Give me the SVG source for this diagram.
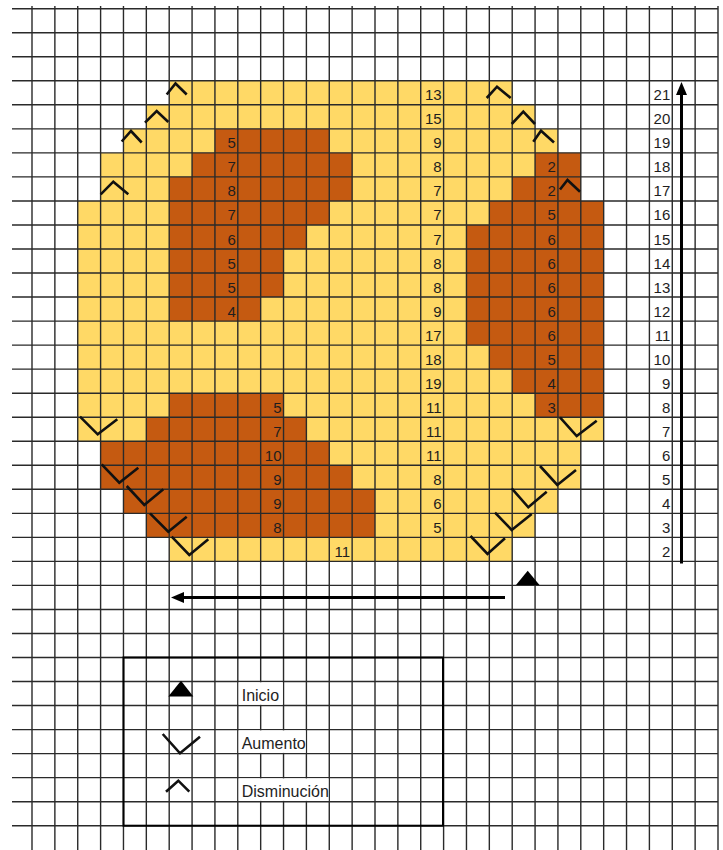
<svg xmlns="http://www.w3.org/2000/svg" width="723" height="850" viewBox="0 0 723 850">
<style>
.y{fill:#FFD966}
.b{fill:#C55A11}
.grid{fill:none;stroke:#2a2a2a;stroke-width:1.4}
.n{font-family:"Liberation Sans",Arial,sans-serif;font-size:15px;fill:#1e1e1e;text-anchor:end}
.lg{font-family:"Liberation Sans",Arial,sans-serif;font-size:16px;fill:#1e1e1e}
.mk{fill:none;stroke:#111;stroke-width:2.6;stroke-linecap:butt;stroke-linejoin:miter}
.tri{fill:#000}
.arr{fill:none;stroke:#000;stroke-width:3}
</style>
<defs>
<marker id="ah" markerUnits="userSpaceOnUse" markerWidth="13" markerHeight="11" refX="4" refY="5.5" orient="auto">
<path d="M0,0L13,5.5L0,11z" fill="#000"/>
</marker>
</defs>
<rect width="723" height="850" fill="#fff"/>
<g id="fills">
<g id="yellow">
<rect class="y" x="169.2" y="80.79" width="343" height="24.03"/>
<rect class="y" x="146.33" y="104.82" width="388.74" height="24.03"/>
<rect class="y" x="123.47" y="128.85" width="434.46" height="24.03"/>
<rect class="y" x="100.6" y="152.88" width="480.2" height="48.06"/>
<rect class="y" x="77.73" y="200.94" width="525.94" height="240.3"/>
<rect class="y" x="100.6" y="441.24" width="480.2" height="48.06"/>
<rect class="y" x="123.47" y="489.3" width="434.46" height="24.03"/>
<rect class="y" x="146.33" y="513.33" width="388.74" height="24.03"/>
<rect class="y" x="169.2" y="537.36" width="343" height="24.03"/>
</g>
<g id="brown">
<rect class="b" x="214.93" y="128.85" width="114.34" height="24.03"/>
<rect class="b" x="192.07" y="152.88" width="160.06" height="24.03"/>
<rect class="b" x="535.07" y="152.88" width="45.73" height="24.03"/>
<rect class="b" x="169.2" y="176.91" width="182.93" height="24.03"/>
<rect class="b" x="512.2" y="176.91" width="68.6" height="24.03"/>
<rect class="b" x="169.2" y="200.94" width="160.07" height="24.03"/>
<rect class="b" x="489.33" y="200.94" width="114.34" height="24.03"/>
<rect class="b" x="169.2" y="224.97" width="137.2" height="24.03"/>
<rect class="b" x="466.47" y="224.97" width="137.2" height="120.15"/>
<rect class="b" x="169.2" y="249" width="114.33" height="48.06"/>
<rect class="b" x="169.2" y="297.06" width="91.47" height="24.03"/>
<rect class="b" x="489.33" y="345.12" width="114.34" height="24.03"/>
<rect class="b" x="512.2" y="369.15" width="91.47" height="24.03"/>
<rect class="b" x="535.07" y="393.18" width="68.6" height="24.03"/>
<rect class="b" x="169.2" y="393.18" width="114.33" height="24.03"/>
<rect class="b" x="146.33" y="417.21" width="160.07" height="24.03"/>
<rect class="b" x="100.6" y="441.24" width="228.67" height="24.03"/>
<rect class="b" x="100.6" y="465.27" width="251.53" height="24.03"/>
<rect class="b" x="123.47" y="489.3" width="251.53" height="24.03"/>
<rect class="b" x="146.33" y="513.33" width="228.67" height="24.03"/>
</g>
</g>
<g id="grid">
<path class="grid" d="M32,6V850M54.87,6V850M77.73,6V850M100.6,6V850M123.47,6V850M146.33,6V850M169.2,6V850M192.07,6V850M214.93,6V850M237.8,6V850M260.67,6V850M283.53,6V850M306.4,6V850M329.27,6V850M352.13,6V850M375,6V850M397.87,6V850M420.73,6V850M443.6,6V850M466.47,6V850M489.33,6V850M512.2,6V850M535.07,6V850M557.93,6V850M580.8,6V850M603.67,6V850M626.53,6V850M649.4,6V850M672.27,6V850M695.13,6V850M718,6V850"/>
<path class="grid" d="M12,8.7H718M12,32.73H718M12,56.76H718M12,80.79H718M12,104.82H718M12,128.85H718M12,152.88H718M12,176.91H718M12,200.94H718M12,224.97H718M12,249H718M12,273.03H718M12,297.06H718M12,321.09H718M12,345.12H718M12,369.15H718M12,393.18H718M12,417.21H718M12,441.24H718M12,465.27H718M12,489.3H718M12,513.33H718M12,537.36H718M12,561.39H718M12,585.42H718M12,609.45H718M12,633.48H718M12,657.51H718M12,681.54H718M12,705.57H718M12,729.6H718M12,753.63H718M12,777.66H718M12,801.69H718M12,825.72H718"/>
</g>
<g id="center-counts">
<text class="n" x="441.6" y="100.32">13</text>
<text class="n" x="441.6" y="124.35">15</text>
<text class="n" x="441.6" y="148.38">9</text>
<text class="n" x="441.6" y="172.41">8</text>
<text class="n" x="441.6" y="196.44">7</text>
<text class="n" x="441.6" y="220.47">7</text>
<text class="n" x="441.6" y="244.5">7</text>
<text class="n" x="441.6" y="268.53">8</text>
<text class="n" x="441.6" y="292.56">8</text>
<text class="n" x="441.6" y="316.59">9</text>
<text class="n" x="441.6" y="340.62">17</text>
<text class="n" x="441.6" y="364.65">18</text>
<text class="n" x="441.6" y="388.68">19</text>
<text class="n" x="441.6" y="412.71">11</text>
<text class="n" x="441.6" y="436.74">11</text>
<text class="n" x="441.6" y="460.77">11</text>
<text class="n" x="441.6" y="484.8">8</text>
<text class="n" x="441.6" y="508.83">6</text>
<text class="n" x="441.6" y="532.86">5</text>
<text class="n" x="350.1" y="556.89">11</text>
</g>
<g id="left-upper-counts">
<text class="n" x="235.8" y="148.38">5</text>
<text class="n" x="235.8" y="172.41">7</text>
<text class="n" x="235.8" y="196.44">8</text>
<text class="n" x="235.8" y="220.47">7</text>
<text class="n" x="235.8" y="244.5">6</text>
<text class="n" x="235.8" y="268.53">5</text>
<text class="n" x="235.8" y="292.56">5</text>
<text class="n" x="235.8" y="316.59">4</text>
</g>
<g id="right-counts">
<text class="n" x="555.9" y="172.41">2</text>
<text class="n" x="555.9" y="196.44">2</text>
<text class="n" x="555.9" y="220.47">5</text>
<text class="n" x="555.9" y="244.5">6</text>
<text class="n" x="555.9" y="268.53">6</text>
<text class="n" x="555.9" y="292.56">6</text>
<text class="n" x="555.9" y="316.59">6</text>
<text class="n" x="555.9" y="340.62">6</text>
<text class="n" x="555.9" y="364.65">5</text>
<text class="n" x="555.9" y="388.68">4</text>
<text class="n" x="555.9" y="412.71">3</text>
</g>
<g id="left-lower-counts">
<text class="n" x="281.5" y="412.71">5</text>
<text class="n" x="281.5" y="436.74">7</text>
<text class="n" x="281.5" y="460.77">10</text>
<text class="n" x="281.5" y="484.8">9</text>
<text class="n" x="281.5" y="508.83">9</text>
<text class="n" x="281.5" y="532.86">8</text>
</g>
<g id="row-numbers">
<text class="n" x="670.3" y="100.32">21</text>
<text class="n" x="670.3" y="124.35">20</text>
<text class="n" x="670.3" y="148.38">19</text>
<text class="n" x="670.3" y="172.41">18</text>
<text class="n" x="670.3" y="196.44">17</text>
<text class="n" x="670.3" y="220.47">16</text>
<text class="n" x="670.3" y="244.5">15</text>
<text class="n" x="670.3" y="268.53">14</text>
<text class="n" x="670.3" y="292.56">13</text>
<text class="n" x="670.3" y="316.59">12</text>
<text class="n" x="670.3" y="340.62">11</text>
<text class="n" x="670.3" y="364.65">10</text>
<text class="n" x="670.3" y="388.68">9</text>
<text class="n" x="670.3" y="412.71">8</text>
<text class="n" x="670.3" y="436.74">7</text>
<text class="n" x="670.3" y="460.77">6</text>
<text class="n" x="670.3" y="484.8">5</text>
<text class="n" x="670.3" y="508.83">4</text>
<text class="n" x="670.3" y="532.86">3</text>
<text class="n" x="670.3" y="556.89">2</text>
</g>
<g id="decreases">
<polyline class="mk" points="166.7,94.5 175.5,83.5 186.7,94.5"/>
<polyline class="mk" points="145,122.7 156.7,111 168.3,122"/>
<polyline class="mk" points="121.7,141.5 131,131 141.7,142.5"/>
<polyline class="mk" points="100.7,194.3 113.3,181.7 128.3,194.3"/>
<polyline class="mk" points="486.7,98 497,86.7 510.7,98"/>
<polyline class="mk" points="511.7,124 523.3,111.7 535,124"/>
<polyline class="mk" points="533.3,141.7 541,130.7 554,142.5"/>
<polyline class="mk" points="560,189.5 567.5,180 580,191.7"/>
</g>
<g id="increases">
<polyline class="mk" points="80,416.7 97.7,434.3 117.3,419.3"/>
<polyline class="mk" points="101.7,464.3 119.3,482.7 138.3,467.7"/>
<polyline class="mk" points="126.7,486 144.3,505 163.3,489.3"/>
<polyline class="mk" points="150,513.3 168.3,531.7 186.7,516.7"/>
<polyline class="mk" points="171.7,536.7 189.3,555 208.3,539.3"/>
<polyline class="mk" points="560,417.3 576.7,436 596.7,420.7"/>
<polyline class="mk" points="540,466 557.3,485 576,470"/>
<polyline class="mk" points="511.7,488.3 528.3,507.3 546.7,491.7"/>
<polyline class="mk" points="495,512.7 511.7,530 531.7,514"/>
<polyline class="mk" points="470.5,536 487.5,554 505,538.3"/>
</g>
<g id="start">
<polygon class="tri" points="527.7,570.7 539.5,585 516,585"/>
</g>
<g id="connectors">
<line class="arr" x1="505" y1="597.5" x2="180" y2="597.5" marker-end="url(#ah)"/>
<line class="arr" x1="681.5" y1="563.5" x2="681.5" y2="91" marker-end="url(#ah)"/>
</g>
<g id="legend">
<rect x="123.5" y="657.5" width="319.5" height="168.2" fill="none" stroke="#000" stroke-width="2"/>
<rect x="238.6" y="682.3" width="44.2" height="22.5" fill="#fff"/>
<rect x="238.6" y="730.4" width="67.1" height="22.5" fill="#fff"/>
<rect x="238.6" y="778.4" width="89.9" height="22.5" fill="#fff"/>
<polygon class="tri" points="181,680.7 193.3,696.5 168.3,696.5"/>
<text class="lg" x="241.7" y="700.8">Inicio</text>
<polyline class="mk" points="162.7,734 180,753.3 200,736.7"/>
<text class="lg" x="241.7" y="748.9">Aumento</text>
<polyline class="mk" points="166,791.7 178.3,780.7 189.3,791.7"/>
<text class="lg" x="241.7" y="796.9">Disminución</text>
</g>
</svg>
